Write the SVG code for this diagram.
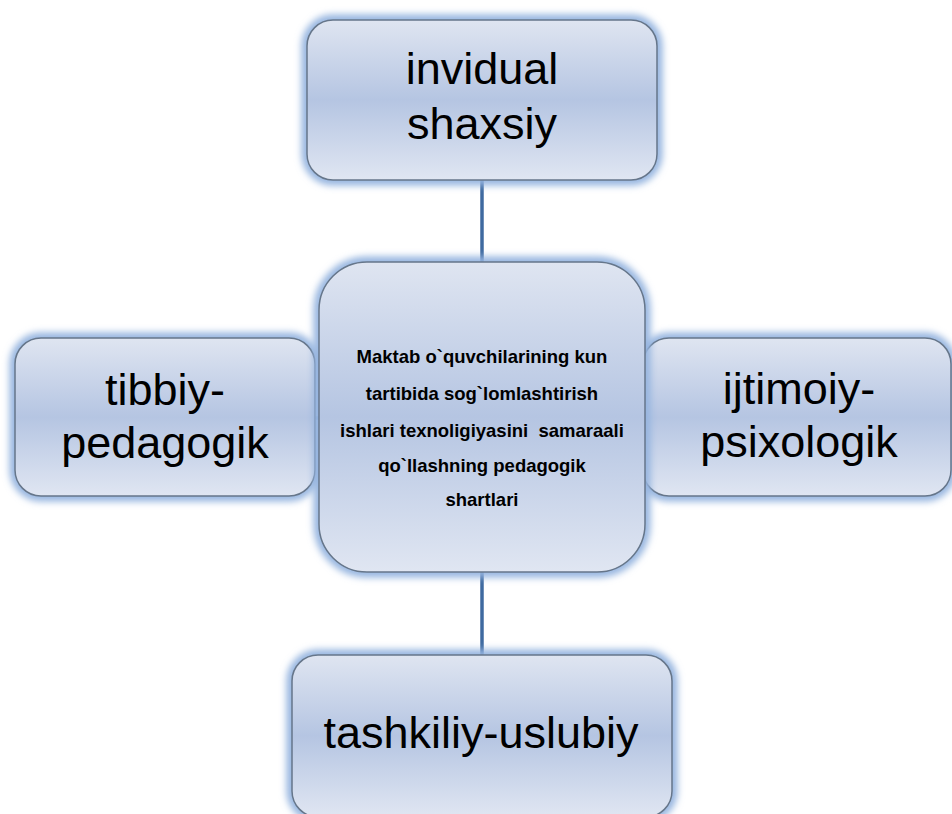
<svg xmlns="http://www.w3.org/2000/svg" width="952" height="814" viewBox="0 0 952 814">
<defs>
<linearGradient id="fill" x1="0" y1="0" x2="0" y2="1">
<stop offset="0" stop-color="#dfe5f1"/>
<stop offset="0.5" stop-color="#b5c5e2"/>
<stop offset="1" stop-color="#e0e6f2"/>
</linearGradient>
<filter id="glow" x="-10%" y="-10%" width="120%" height="120%">
<feGaussianBlur stdDeviation="3.5"/>
</filter>
</defs>
<style>
.glow{fill:none;stroke:#94b4df;stroke-width:11;filter:url(#glow)}
.box{fill:url(#fill);stroke:#66768a;stroke-width:1.5}
.big{font-family:"Liberation Sans",Arial,sans-serif;font-size:45px;fill:#000;text-anchor:middle}
.small{font-family:"Liberation Sans",Arial,sans-serif;font-size:18.5px;font-weight:bold;fill:#000;text-anchor:middle;white-space:pre}
.conn{stroke:#3f6aa0;stroke-width:3.5;fill:none}
</style>
<rect width="952" height="814" fill="#fff"/>
<g id="connectors">
<line class="conn" x1="482" y1="178" x2="482" y2="264"/>
<line class="conn" x1="482" y1="570" x2="482" y2="657"/>
<line class="conn" x1="313" y1="418" x2="321" y2="418"/>
<line class="conn" x1="641" y1="418" x2="647" y2="418"/>
</g>
<g id="node-top">
<rect class="glow" x="307" y="20" width="350" height="160" rx="26"/>
<rect class="box" x="307" y="20" width="350" height="160" rx="26"/>
<text class="big" x="482" y="84">invidual</text>
<text class="big" x="482" y="139">shaxsiy</text>
</g>
<g id="node-left">
<rect class="glow" x="15" y="338" width="300" height="158" rx="26"/>
<rect class="box" x="15" y="338" width="300" height="158" rx="26"/>
<text class="big" x="165" y="405">tibbiy-</text>
<text class="big" x="165" y="458">pedagogik</text>
</g>
<g id="node-right">
<rect class="glow" x="643" y="338" width="308" height="158" rx="26"/>
<rect class="box" x="643" y="338" width="308" height="158" rx="26"/>
<text class="big" x="799" y="404">ijtimoiy-</text>
<text class="big" x="799" y="457">psixologik</text>
</g>
<g id="node-bottom">
<rect class="glow" x="292" y="655" width="380" height="162" rx="26"/>
<rect class="box" x="292" y="655" width="380" height="162" rx="26"/>
<text class="big" x="481" y="748">tashkiliy-uslubiy</text>
</g>
<g id="node-center">
<rect class="glow" x="319" y="262" width="326" height="310" rx="48"/>
<rect class="box" x="319" y="262" width="326" height="310" rx="48"/>
<text class="small" x="482" y="363">Maktab o`quvchilarining kun</text>
<text class="small" x="482" y="400">tartibida sog`lomlashtirish</text>
<text class="small" x="482" y="437">ishlari texnoligiyasini  samaraali</text>
<text class="small" x="482" y="472">qo`llashning pedagogik</text>
<text class="small" x="482" y="506">shartlari</text>
</g>
</svg>
